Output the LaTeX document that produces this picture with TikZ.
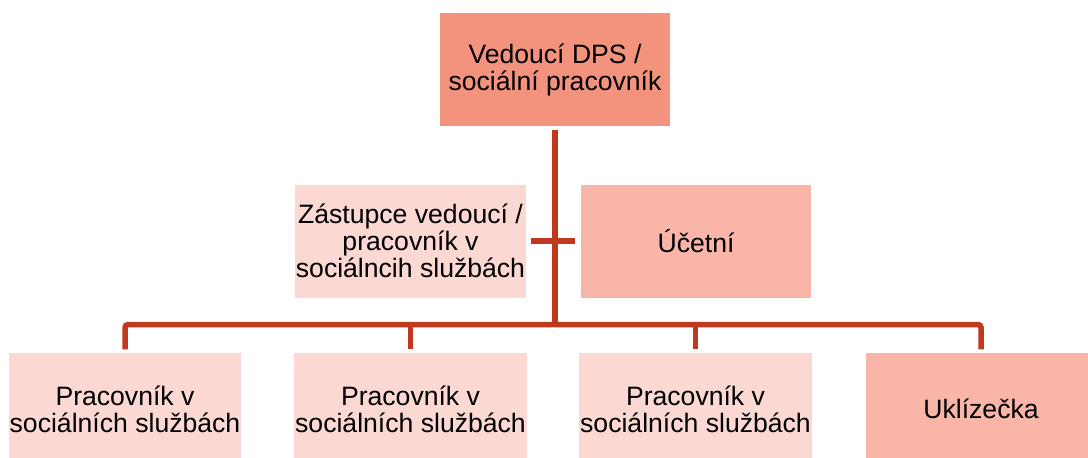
\documentclass[tikz,border=0pt]{standalone}
\usepackage{fontspec}
\setmainfont{Liberation Sans}
\definecolor{boxdark}{HTML}{F4937D}
\definecolor{boxmid}{HTML}{F8B5A8}
\definecolor{boxlight}{HTML}{FBD8D2}
\definecolor{linered}{HTML}{C0381E}
\begin{document}
\begin{tikzpicture}[x=1pt, y=-1pt,
		box/.style={rectangle, minimum width=230pt, minimum height=113pt, inner sep=1pt, align=center, font=\fontsize{26.6}{27}\selectfont},
		conn/.style={draw=linered, line width=5.5pt}]
			\clip (0,0) rectangle (1088,458);

			\node [box, fill=boxdark ] (vedouci)   at (555,69.5)  {Vedoucí DPS /\\sociální pracovník};
			\node [box, fill=boxlight] (zastupce)  at (410.5,241) {Zástupce vedoucí /\\pracovník v\\sociálncih službách};
			\node [box, fill=boxmid  ] (ucetni)    at (696,241)   {Účetní};
			\node [box, fill=boxlight] (prac1)     at (125,409)   {Pracovník v\\sociálních službách};
			\node [box, fill=boxlight] (prac2)     at (410.5,409) {Pracovník v\\sociálních službách};
			\node [box, fill=boxlight] (prac3)     at (695.5,409) {Pracovník v\\sociálních službách};
			\node [box, fill=boxmid  ] (uklizecka) at (981,409)   {Uklízečka};

			\coordinate (bus) at (555,324.5);

			\draw [conn, shorten <=4pt] (vedouci) -- (bus);
			\draw [conn, shorten <=5pt, shorten >=6pt] (zastupce.east) -- (ucetni.west);

			\draw [conn, rounded corners=3pt, shorten <=3pt, shorten >=3pt] (prac1.north) |- (bus) -| (uklizecka.north);
			\draw [conn, shorten >=3pt] (prac2.north |- bus) -- (prac2.north);
			\draw [conn, shorten >=3pt] (prac3.north |- bus) -- (prac3.north);
		\end{tikzpicture}
\end{document}
